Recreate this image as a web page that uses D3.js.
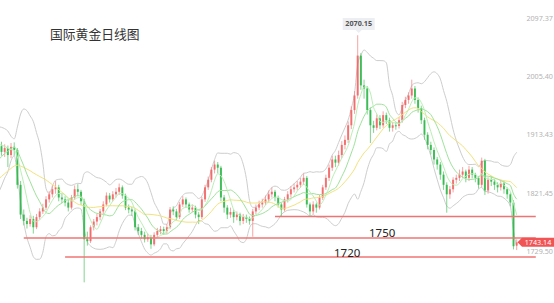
<!DOCTYPE html>
<html><head><meta charset="utf-8">
<script src="https://cdn.jsdelivr.net/npm/d3@7/dist/d3.min.js"></script>
<style>html,body{margin:0;padding:0;background:#fff;overflow:hidden}svg{display:block}</style>
</head><body><svg id="c" width="554" height="303"></svg>
<script>
const title = "国际黄金日线图";
// 20 closes before the first visible day (only used to seed the indicators)
const priorCloses = [1800,1805,1798,1810,1815,1808,1812,1820,1825,1832,1835,1840,1850,1848,1870,1892,1902,1896,1905,1895];
const opens = [1895,1886,1892,1881,1894,1889,1834,1787,1777,1772,
 1780,1767,1783,1792,1798,1811,1819,1827,1830,1814,
 1811,1806,1798,1814,1827,1823,1808,1748,1745,1767,
 1776,1783,1792,1803,1817,1811,1819,1823,1830,1817,
 1798,1795,1792,1767,1761,1755,1748,1751,1740,1755,
 1761,1764,1761,1767,1795,1792,1783,1803,1811,1803,
 1795,1798,1787,1783,1811,1830,1842,1858,1866,1861,
 1814,1798,1787,1791,1783,1787,1777,1783,1780,1777,
 1792,1798,1803,1806,1811,1819,1823,1814,1803,1795,
 1811,1819,1827,1830,1834,1839,1845,1803,1792,1803,
 1798,1814,1830,1845,1861,1874,1869,1881,1897,1905,
 1928,1952,1975,2038,1991,1986,1952,1928,1924,1939,
 1928,1944,1936,1924,1928,1927,1936,1960,1968,1975,
 1986,1968,1955,1936,1913,1897,1889,1874,1866,1850,
 1834,1819,1827,1842,1845,1850,1855,1845,1858,1850,
 1845,1834,1872,1825,1842,1839,1834,1830,1836,1827,
 1819,1806,1738];
const closes = [1886,1892,1881,1894,1889,1834,1787,1777,1772,1780,
 1767,1783,1792,1798,1811,1819,1827,1830,1814,1811,
 1806,1798,1814,1827,1823,1808,1748,1745,1767,1776,
 1783,1792,1803,1817,1811,1819,1823,1830,1817,1798,
 1795,1792,1767,1761,1755,1748,1751,1740,1755,1761,
 1764,1761,1767,1795,1792,1783,1803,1811,1803,1795,
 1798,1787,1783,1811,1830,1842,1858,1866,1861,1814,
 1798,1787,1791,1783,1787,1777,1783,1780,1777,1792,
 1798,1803,1806,1811,1819,1823,1814,1803,1795,1811,
 1819,1827,1830,1834,1839,1845,1803,1792,1803,1798,
 1814,1830,1845,1861,1874,1869,1881,1897,1905,1928,
 1952,1975,2038,1991,1986,1952,1928,1924,1939,1928,
 1944,1936,1924,1928,1927,1936,1960,1968,1975,1986,
 1968,1955,1936,1913,1897,1889,1874,1866,1850,1834,
 1819,1827,1842,1845,1850,1855,1845,1858,1850,1845,
 1834,1872,1825,1842,1839,1834,1830,1836,1827,1819,
 1806,1737,1743.14];
const highs = [1902,1898,1896,1900,1901,1892,1840,1795,1782,1786,
 1785,1788,1797,1804,1816,1824,1833,1840,1834,1820,
 1816,1810,1818,1833,1835,1826,1812,1760,1770,1780,
 1788,1796,1808,1822,1821,1824,1829,1836,1833,1820,
 1803,1799,1795,1772,1766,1760,1757,1755,1759,1766,
 1769,1768,1772,1799,1800,1796,1807,1816,1814,1806,
 1803,1801,1791,1815,1834,1847,1862,1872,1870,1864,
 1818,1802,1798,1795,1792,1790,1788,1787,1784,1796,
 1803,1809,1812,1817,1825,1830,1826,1817,1806,1815,
 1824,1832,1836,1840,1845,1852,1848,1806,1808,1806,
 1818,1834,1850,1866,1880,1880,1888,1903,1912,1934,
 1958,1982,2070.15,2042,2000,1990,1956,1935,1945,1944,
 1950,1948,1940,1933,1932,1941,1965,1973,1980,2000,
 1990,1972,1959,1940,1917,1902,1893,1878,1870,1855,
 1838,1832,1846,1850,1858,1862,1858,1864,1862,1853,
 1848,1877,1875,1846,1848,1843,1838,1842,1840,1830,
 1822,1810,1748];
const lows = [1880,1878,1862,1876,1880,1828,1780,1770,1765,1768,
 1757,1764,1779,1788,1794,1806,1814,1820,1808,1805,
 1800,1792,1795,1810,1816,1802,1680,1738,1742,1762,
 1770,1778,1788,1800,1806,1808,1814,1818,1812,1794,
 1789,1785,1762,1755,1749,1743,1744,1733,1737,1751,
 1756,1755,1757,1764,1786,1778,1780,1799,1798,1790,
 1791,1781,1772,1780,1807,1826,1838,1852,1852,1808,
 1790,1780,1782,1774,1778,1770,1772,1774,1771,1752,
 1787,1794,1798,1802,1806,1814,1808,1798,1784,1792,
 1806,1814,1822,1825,1829,1834,1798,1784,1788,1790,
 1795,1810,1826,1840,1856,1862,1864,1876,1890,1900,
 1922,1946,1970,1984,1970,1945,1900,1916,1920,1922,
 1924,1930,1918,1918,1921,1923,1932,1955,1962,1970,
 1962,1948,1930,1905,1890,1882,1866,1858,1842,1826,
 1790,1812,1822,1836,1840,1845,1838,1840,1844,1838,
 1828,1830,1818,1820,1832,1826,1822,1825,1820,1812,
 1800,1732,1731];
const tickValues = [2097.37, 2005.40, 1913.43, 1821.45, 1729.50];
const tickLabels = ["2097.37", "2005.40", "1913.43", "1821.45", "1729.50"];
const levelValues = [1784, 1750, 1720];
const levelLabels = ["", "1750", "1720"];
const levelStartDay = [86, 7, 20];
const levelEndDay = 168;
const peakValue = 2070.15, peakLabel = "2070.15";
const lastValue = 1743.14, lastLabel = "1743.14";

const svg = d3.select("#c");
const font = "'Noto Sans','DejaVu Sans',sans-serif";
const n = closes.length;
const x = d3.scaleLinear().domain([0, n - 1]).range([1.5, 516.7]);
const y = d3.scaleLinear().domain([1729.5, 2097.37]).range([251, 18]);

const all = priorCloses.concat(closes);
const off = priorCloses.length;
function ma(p) {
  const out = [];
  for (let k = off - 1; k < all.length; k++) {
    const w = all.slice(k - p + 1, k + 1);
    out.push({i: k - off, v: d3.mean(w)});
  }
  return out;
}
function boll(p, m) {
  const up = [], lo = [];
  for (let k = off - 1; k < all.length; k++) {
    const w = all.slice(k - p + 1, k + 1);
    const mu = d3.mean(w);
    const sd = Math.sqrt(d3.mean(w, v => (v - mu) * (v - mu)));
    up.push({i: k - off, v: mu + m * sd});
    lo.push({i: k - off, v: mu - m * sd});
  }
  return [up, lo];
}

svg.append("defs").append("clipPath").attr("id", "plot")
  .append("rect").attr("x", 0).attr("y", 0).attr("width", 520).attr("height", 303);

const g = svg.append("g").attr("clip-path", "url(#plot)");
const line = d3.line().x(d => x(d.i)).y(d => y(d.v)).curve(d3.curveMonotoneX);

// Bollinger bands
const [bu, bl] = boll(10, 2);
[bu, bl].forEach(b => g.append("path").datum(b).attr("d", line)
  .attr("fill", "none").attr("stroke", "#cdcdcd").attr("stroke-width", 1));

// candles
const days = d3.range(n);
const up = i => closes[i] >= opens[i];
const cg = g.append("g");
cg.selectAll("line.w").data(days).join("line")
  .attr("x1", i => x(i)).attr("x2", i => x(i))
  .attr("y1", i => y(highs[i])).attr("y2", i => y(lows[i]))
  .attr("stroke", i => up(i) ? "#f58a8a" : "#5cc96d").attr("stroke-width", 0.9).attr("opacity", 0.85);
cg.selectAll("rect").data(days).join("rect")
  .attr("x", i => x(i) - 1).attr("width", 2)
  .attr("y", i => y(Math.max(opens[i], closes[i])))
  .attr("height", i => Math.max(1, Math.abs(y(opens[i]) - y(closes[i]))))
  .attr("fill", i => up(i) ? "#f25e5e" : "#27b444").attr("opacity", 0.82);

// moving averages
[[20, "#f3e27c"], [10, "#9fe29a"], [5, "#b9efb4"]].forEach(([p, c]) =>
  g.append("path").datum(ma(p)).attr("d", line).attr("fill", "none")
    .attr("stroke", c).attr("stroke-width", 1));

// support levels
levelValues.forEach((v, k) => {
  svg.append("line").attr("x1", x(levelStartDay[k])).attr("x2", x(levelEndDay))
    .attr("y1", y(v)).attr("y2", y(v))
    .attr("stroke", "#f07474").attr("stroke-width", 1.6);
});
svg.append("text").attr("x", 369).attr("y", y(levelValues[1]) - 1).text(levelLabels[1])
  .attr("font-family", font).attr("font-size", 11.5).attr("fill", "#222");
svg.append("text").attr("x", 334).attr("y", y(levelValues[2]) - 0.5).text(levelLabels[2])
  .attr("font-family", font).attr("font-size", 11.5).attr("fill", "#222");

// right axis labels
tickValues.forEach((v, k) => {
  svg.append("text").attr("x", 553).attr("y", y(v) + 1).attr("text-anchor", "end")
    .attr("dominant-baseline", "middle").attr("font-family", font)
    .attr("font-size", 7.2).attr("fill", "#b3b3b3").text(tickLabels[k]);
});

// peak label
const pi = highs.indexOf(peakValue);
const px = x(pi) + 1;
svg.append("path").attr("d", `M${px - 16},18 H${px + 16} V30 H${px + 3} L${px},33 L${px - 3},30 H${px - 16} Z`)
  .attr("fill", "#eceef1");
svg.append("text").attr("x", px).attr("y", 24.5).attr("text-anchor", "middle")
  .attr("dominant-baseline", "middle").attr("font-family", font).attr("font-size", 7.2)
  .attr("font-weight", "bold").attr("fill", "#555").text(peakLabel);

// last price tag
const ly = y(lastValue);
svg.append("path").attr("d", `M517.5,${ly} L522,${ly - 4.5} H554 V${ly + 4.5} H522 Z`).attr("fill", "#f05454");
svg.append("text").attr("x", 538).attr("y", ly + 0.5).attr("text-anchor", "middle")
  .attr("dominant-baseline", "middle").attr("font-family", font).attr("font-size", 7.2)
  .attr("fill", "#fff").text(lastLabel);

// title
svg.append("text").attr("x", 50).attr("y", 39).text(title)
  .attr("font-family", "'Noto Sans CJK SC',sans-serif").attr("font-size", 12.8).attr("fill", "#333");
</script></body></html>
